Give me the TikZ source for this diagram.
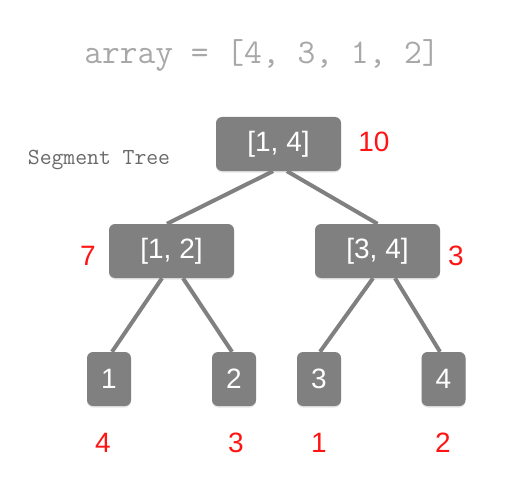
\documentclass[tikz,border=0pt]{standalone}
\usepackage{fontspec}
\setmainfont{Liberation Sans}
\usetikzlibrary{shadows}
\definecolor{boxgray}{RGB}{128,128,128}
\definecolor{titlegray}{RGB}{168,168,168}
\definecolor{labelgray}{RGB}{105,105,105}
\definecolor{sumred}{RGB}{255,20,20}
\begin{document}
\begin{tikzpicture}[x=1pt,y=-1pt,
        segbox/.style={fill=boxgray,text=white,rounded corners=6pt,inner sep=0pt,
                minimum height=54pt,font=\fontsize{28}{30}\selectfont,
                drop shadow={opacity=0.2,shadow xshift=0pt,shadow yshift=-1.5pt}},
        rangebox/.style={segbox,minimum width=125pt},
        leafbox/.style={segbox,minimum width=44pt},
        sumlabel/.style={text=sumred,font=\fontsize{28}{30}\selectfont},
        edge/.style={draw=boxgray,line width=4pt}] % Segment tree of the array
        \useasboundingbox (0,0) rectangle (522,484);
        \node[font=\ttfamily\fontsize{34.5}{36}\selectfont,text=titlegray] (title) at (262,55) {array = [4, 3, 1, 2]};
        \node[font=\ttfamily\fontsize{23}{25}\selectfont,text=labelgray] (treename) at (99,160) {Segment Tree};
        \node[rangebox] (root) at (278.5,144) {[1, 4]};
        \node[rangebox] (left) at (171.5,251) {[1, 2]};
        \node[rangebox] (right) at (377.5,251) {[3, 4]};
        \node[leafbox] (leafa) at (109,379) {1};
        \node[leafbox] (leafb) at (234,379) {2};
        \node[leafbox] (leafc) at (319,379) {3};
        \node[leafbox] (leafd) at (443.5,379) {4};
        \draw[edge] ([xshift=-5.5pt]root.south) -- ([xshift=-4.5pt]left.north);
        \draw[edge] ([xshift=8.5pt]root.south) -- (right.north);
        \draw[edge] ([xshift=-9.5pt]left.south) -- ([xshift=3pt]leafa.north);
        \draw[edge] ([xshift=11.5pt]left.south) -- ([xshift=-2pt]leafb.north);
        \draw[edge] ([xshift=-4.5pt]right.south) -- ([xshift=1pt]leafc.north);
        \draw[edge] ([xshift=17.5pt]right.south) -- ([xshift=-3.5pt]leafd.north);
        \node[sumlabel] (sumroot) at (374,142) {10};
        \node[sumlabel] (sumleft) at (88,256) {7};
        \node[sumlabel] (sumright) at (456,256) {3};
        \node[sumlabel] (suma) at (103,443) {4};
        \node[sumlabel] (sumb) at (236,443) {3};
        \node[sumlabel] (sumc) at (319,443) {1};
        \node[sumlabel] (sumd) at (443,443) {2};
\end{tikzpicture}
\end{document}
